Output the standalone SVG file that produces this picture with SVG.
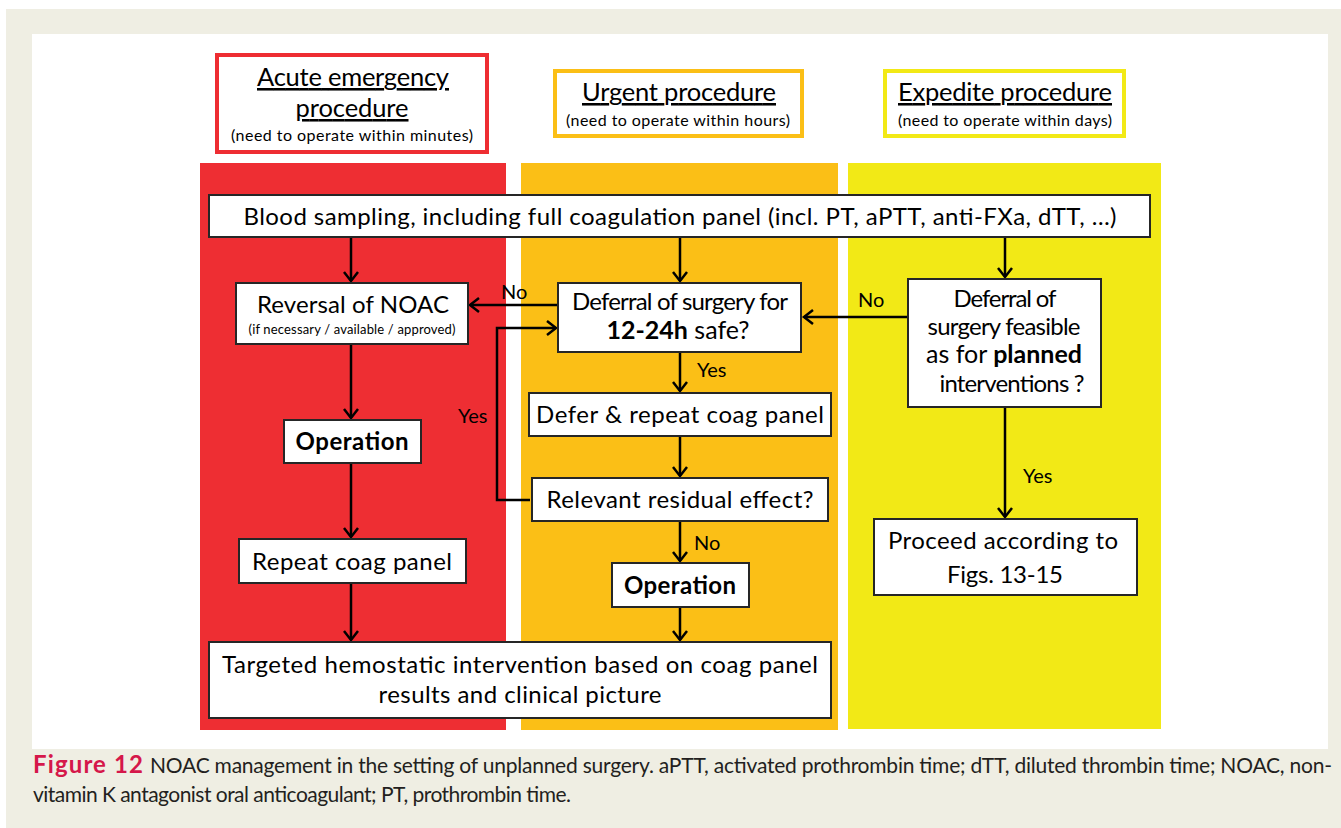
<svg xmlns="http://www.w3.org/2000/svg" width="1341" height="828" viewBox="0 0 1341 828">
<defs>
<style>
.box{fill:#fff;stroke:#262626;stroke-width:2}
.t{font-family:Lato,"Open Sans","Liberation Sans",sans-serif;font-size:24px;fill:#000;text-anchor:middle}
.b{font-weight:bold}
.lbl{font-family:Lato,"Open Sans","Liberation Sans",sans-serif;font-size:20px;fill:#000}
.hd{font-family:Lato,"Open Sans","Liberation Sans",sans-serif;font-size:25.5px;fill:#000;text-anchor:middle;text-decoration:underline}
.sub{font-family:Lato,"Open Sans","Liberation Sans",sans-serif;font-size:16px;fill:#000;text-anchor:middle}
.conn path{fill:none;stroke:#000;stroke-width:2.5;marker-end:url(#arr)}
.cap{font-family:Lato,"Open Sans","Liberation Sans",sans-serif;font-size:21px;fill:#231F20}
</style>
<marker id="arr" markerUnits="userSpaceOnUse" markerWidth="14" markerHeight="18" refX="11" refY="9" orient="auto" viewBox="0 0 14 18">
<path d="M2,2 L11,9 L2,16" fill="none" stroke="#000" stroke-width="2.5"/>
</marker>
</defs>
<rect x="0" y="0" width="1341" height="828" fill="#fff"/>
<rect x="6" y="9" width="1335" height="819" fill="#EFEEE3"/>
<rect x="32" y="34" width="1296" height="715" fill="#fff"/>

<g id="panels">
<rect x="200" y="163" width="306" height="567" fill="#EE2E33"/>
<rect x="521" y="163" width="317" height="567" fill="#FBBF16"/>
<rect x="848" y="163" width="313" height="566" fill="#F2E916"/>
</g>

<g id="hdr-acute">
<rect x="217" y="55" width="270" height="97" fill="#fff" stroke="#EE2D32" stroke-width="4"/>
<text class="hd" x="353" y="86" textLength="192">Acute emergency</text>
<text class="hd" x="352" y="117" textLength="113">procedure</text>
<text class="sub" x="352" y="141" textLength="242">(need to operate within minutes)</text>
</g>
<g id="hdr-urgent">
<rect x="555" y="71" width="247" height="65" fill="#fff" stroke="#FBBF16" stroke-width="4"/>
<text class="hd" x="679" y="101" textLength="194">Urgent procedure</text>
<text class="sub" x="678" y="126" textLength="224">(need to operate within hours)</text>
</g>
<g id="hdr-expedite">
<rect x="885" y="71" width="239" height="65" fill="#fff" stroke="#F2E916" stroke-width="4"/>
<text class="hd" x="1005" y="101" textLength="214">Expedite procedure</text>
<text class="sub" x="1005" y="126" textLength="214">(need to operate within days)</text>
</g>

<g class="conn" id="connectors">
<path d="M351,238 L351,281"/>
<path d="M680,238 L680,281"/>
<path d="M1005,238 L1005,277"/>
<path d="M558,305 L470,305"/>
<path d="M908,317 L804,317"/>
<path d="M530,500 L497,500 L497,328 L556,328"/>
<path d="M680,352 L680,391"/>
<path d="M680,436 L680,476"/>
<path d="M680,521 L680,561"/>
<path d="M680,607 L680,640"/>
<path d="M351,344 L351,418"/>
<path d="M351,463 L351,537"/>
<path d="M351,583 L351,640"/>
<path d="M1005,407 L1005,517"/>
</g>

<g id="labels">
<text class="lbl" x="501" y="299">No</text>
<text class="lbl" x="858" y="307">No</text>
<text class="lbl" x="458" y="423">Yes</text>
<text class="lbl" x="697" y="377">Yes</text>
<text class="lbl" x="694" y="550">No</text>
<text class="lbl" x="1023" y="483">Yes</text>
</g>

<g id="blood">
<rect class="box" x="209" y="195" width="941" height="42"/>
<text class="t" x="680" y="225" textLength="873">Blood sampling, including full coagulation panel (incl. PT, aPTT, anti-FXa, dTT, …)</text>
</g>
<g id="reversal">
<rect class="box" x="236" y="283" width="232" height="61"/>
<text class="t" x="353" y="313" textLength="192">Reversal of NOAC</text>
<text class="sub" x="352" y="334" style="font-size:13px" textLength="207">(if necessary / available / approved)</text>
</g>
<g id="op-red">
<rect class="box" x="284" y="420" width="137" height="43"/>
<text class="t b" x="352" y="450" textLength="113">Operation</text>
</g>
<g id="repeat">
<rect class="box" x="239" y="539" width="227" height="44"/>
<text class="t" x="352" y="570" textLength="200">Repeat coag panel</text>
</g>
<g id="deferral">
<rect class="box" x="558" y="283" width="243" height="69"/>
<text class="t" x="680" y="310" textLength="216">Deferral of surgery for</text>
<text class="t" x="678" y="339" style="font-size:25px"><tspan class="b">12-24h</tspan> safe?</text>
</g>
<g id="defer">
<rect class="box" x="529" y="393" width="302" height="43"/>
<text class="t" x="680" y="423" textLength="288">Defer &amp; repeat coag panel</text>
</g>
<g id="residual">
<rect class="box" x="532" y="478" width="296" height="43"/>
<text class="t" x="680" y="508" textLength="267">Relevant residual effect?</text>
</g>
<g id="op-orange">
<rect class="box" x="612" y="563" width="137" height="44"/>
<text class="t b" x="680" y="594" textLength="112">Operation</text>
</g>
<g id="targeted">
<rect class="box" x="209" y="642" width="622" height="76"/>
<text class="t" x="520" y="673" textLength="596">Targeted hemostatic intervention based on coag panel</text>
<text class="t" x="520" y="703" textLength="283">results and clinical picture</text>
</g>
<g id="feasible">
<rect class="box" x="908" y="279" width="193" height="128"/>
<text class="t" x="1005" y="307" textLength="103">Deferral of</text>
<text class="t" x="1004" y="335" textLength="153">surgery feasible</text>
<text class="t" x="1004" y="363" style="font-size:25px">as for <tspan class="b">planned</tspan></text>
<text class="t" x="1012" y="392" textLength="145">interventions ?</text>
</g>
<g id="proceed">
<rect class="box" x="874" y="519" width="263" height="76"/>
<text class="t" x="1003" y="549" textLength="230">Proceed according to</text>
<text class="t" x="1005" y="583" textLength="116">Figs. 13-15</text>
</g>

<g id="caption">
<text class="cap" x="33" y="773" font-weight="bold" textLength="110" style="font-size:24px;fill:#D5174A">Figure 12</text>
<text class="cap" x="150" y="773" textLength="1182">NOAC management in the setting of unplanned surgery. aPTT, activated prothrombin time; dTT, diluted thrombin time; NOAC, non-</text>
<text class="cap" x="33" y="802" textLength="538">vitamin K antagonist oral anticoagulant; PT, prothrombin time.</text>
</g>
</svg>
